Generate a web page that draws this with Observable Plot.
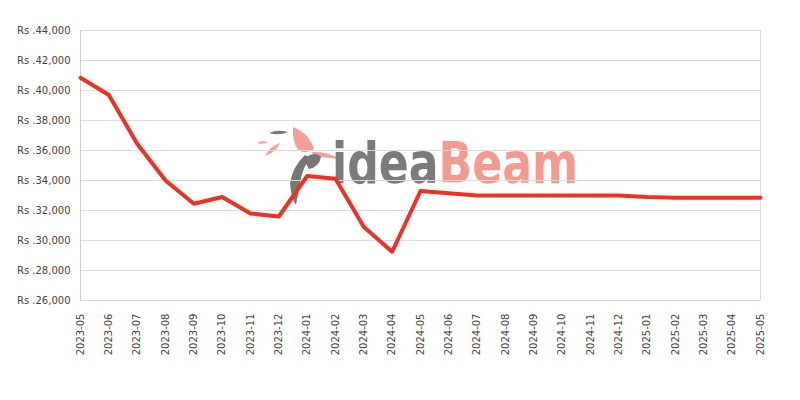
<!DOCTYPE html>
<html>
<head>
<meta charset="utf-8">
<script src="https://cdn.jsdelivr.net/npm/d3@7"></script>
<script src="https://cdn.jsdelivr.net/npm/@observablehq/plot@0.6"></script>
<style>
  html, body { margin: 0; padding: 0; background: #fff; }
  #wrap { position: relative; width: 800px; height: 400px; }
  #wm { position: absolute; left: 0; top: 0; width: 800px; height: 400px; z-index: 0; pointer-events: none; }
  #wm .txt { position: absolute; left: 332px; top: 135px; font-family: "DejaVu Sans Condensed", "DejaVu Sans", sans-serif; font-weight: bold; font-size: 57px; line-height: 1; white-space: nowrap; transform-origin: 0 0; }
  #chart { position: relative; z-index: 1; }
  #chart svg { background: transparent !important; }
</style>
</head>
<body>
<div id="wrap">
  <div id="wm">
    <svg width="800" height="400" style="position:absolute;left:0;top:0">
      <path d="M269 133 Q278 129 288 132 Q279 136 269 133 Z" fill="#777"/>
      <path d="M257 143 Q262 140 268 142 Q262 145 257 143 Z" fill="#f4a097"/>
      <path d="M265 156 Q270 146 280 143 Q276 152 265 156 Z" fill="#f4a097"/>
      <path d="M293 127 Q309 133 314 149 Q306 155 298 150 Q292 141 293 127 Z" fill="#f4a097"/>
      <path d="M312 152 Q328 151 341 160 Q326 156 314 158 Z" fill="#f4a097"/>
      <path d="M305 155 Q293 166 290 183 Q291 198 296 205 Q299 190 301 178 Q304 165 311 158 Z" fill="#777"/>
      <path d="M306 157 Q316 151 321 157 Q319 167 309 169 Q305 164 306 157 Z" fill="#777"/>
    </svg>
    <div class="txt" id="wmtxt"><span style="color:#7b7b7b">idea</span><span style="color:#f59a90">Beam</span></div>
  </div>
  <div id="chart"></div>
</div>
<script>
const months = ["2023-05","2023-06","2023-07","2023-08","2023-09","2023-10","2023-11","2023-12",
  "2024-01","2024-02","2024-03","2024-04","2024-05","2024-06","2024-07","2024-08","2024-09",
  "2024-10","2024-11","2024-12","2025-01","2025-02","2025-03","2025-04","2025-05"];
const prices = [40850, 39700, 36450, 34000, 32450, 32900, 31800, 31600,
  34300, 34120, 30900, 29250, 33300, 33150, 33000, 33000, 33000,
  33000, 33000, 33000, 32900, 32850, 32850, 32850, 32850];
const yTicks = [26000, 28000, 30000, 32000, 34000, 36000, 38000, 40000, 42000, 44000];

const data = months.map((m, i) => ({month: m, price: prices[i]}));
const fmt = d3.format(",");

const plot = Plot.plot({
  width: 800,
  height: 400,
  marginLeft: 80,
  marginRight: 40,
  marginTop: 30,
  marginBottom: 100,
  style: {fontFamily: "DejaVu Sans, sans-serif", fontSize: "10px", color: "#444", background: "transparent"},
  x: {type: "point", domain: months, padding: 0, round: false},
  y: {domain: [26000, 44000], ticks: yTicks},
  marks: [
    Plot.gridY(yTicks, {stroke: "#dcdcdc", strokeOpacity: 1}),
    Plot.ruleX([months[0]], {stroke: "#d0d0d0"}),
    Plot.ruleX([months[months.length - 1]], {stroke: "#dcdcdc"}),
    Plot.axisY(yTicks, {tickSize: 0, tickPadding: 10, tickFormat: d => "Rs ." + fmt(d), fill: "#444", label: null}),
    Plot.axisX(months, {tickSize: 0, tickPadding: 13, tickRotate: -90, fill: "#444", label: null}),
    Plot.line(data, {x: "month", y: "price", stroke: "#ee3124", strokeWidth: 4, strokeLinejoin: "round"})
  ]
});
document.getElementById("chart").appendChild(plot);

const wt = document.getElementById("wmtxt");
const w = wt.getBoundingClientRect().width;
wt.style.transform = "scaleX(" + (246 / w) + ")";
</script>
</body>
</html>
